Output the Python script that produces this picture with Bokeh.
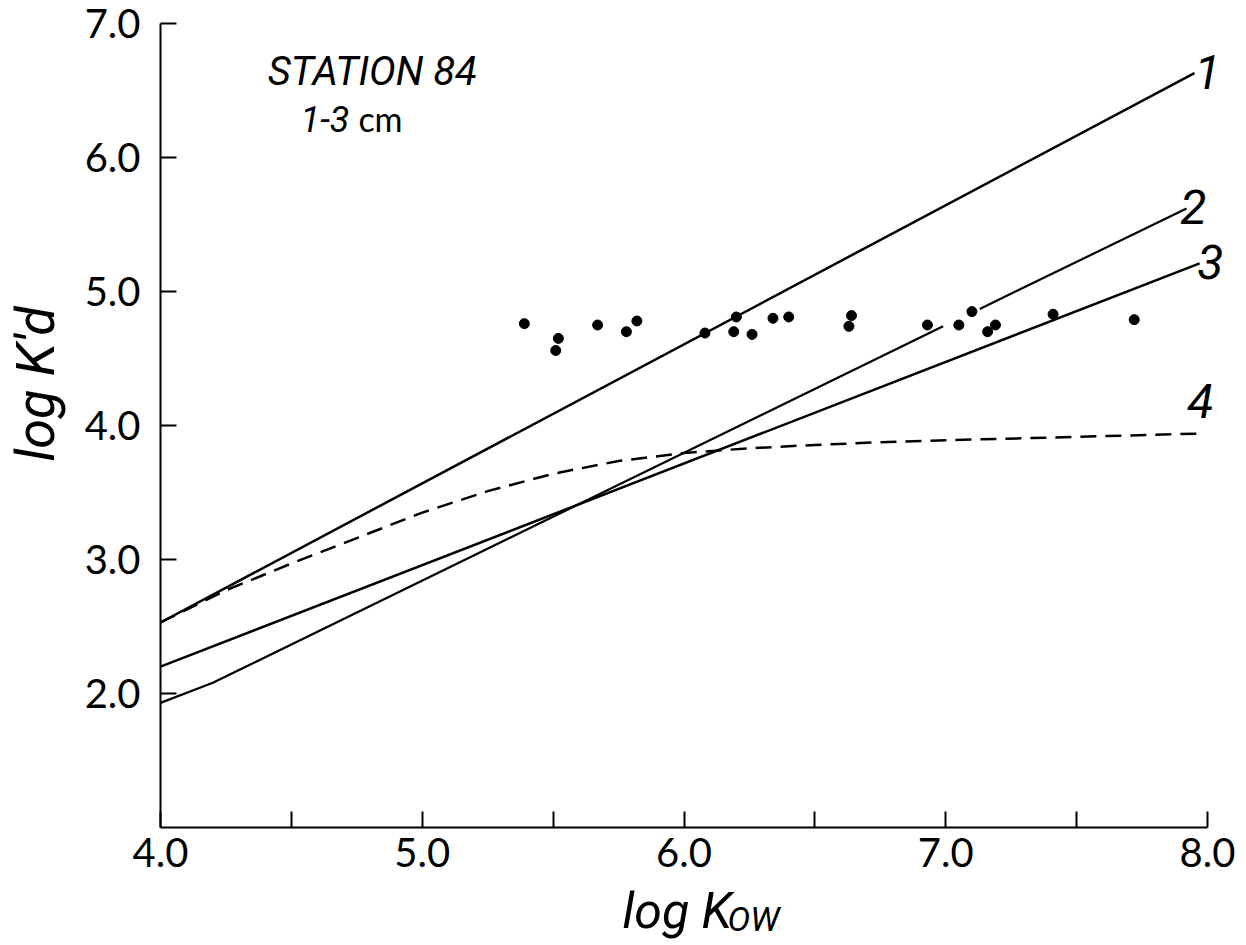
import math
from bokeh.plotting import figure
from bokeh.models import Label, FixedTicker, Range1d
from bokeh.embed import file_html
from bokeh.resources import INLINE

# ---- data ----
x_ticks = [4.0, 4.5, 5.0, 5.5, 6.0, 6.5, 7.0, 7.5, 8.0]
x_tick_labels = ["4.0", "", "5.0", "", "6.0", "", "7.0", "", "8.0"]
y_ticks = [2.0, 3.0, 4.0, 5.0, 6.0, 7.0]
y_tick_labels = ["2.0", "3.0", "4.0", "5.0", "6.0", "7.0"]

pts_x = [5.39, 5.52, 5.51, 5.67, 5.78, 5.82, 6.08, 6.20, 6.19, 6.26, 6.34,
         6.40, 6.64, 6.63, 6.93, 7.05, 7.10, 7.19, 7.16, 7.41, 7.72]
pts_y = [4.76, 4.65, 4.56, 4.75, 4.70, 4.78, 4.69, 4.81, 4.70, 4.68, 4.80,
         4.81, 4.82, 4.74, 4.75, 4.75, 4.85, 4.75, 4.70, 4.83, 4.79]

line1_x = [4.0, 7.95]
line1_y = [2.53, 6.63]
line2_x = [4.0, 4.2, 6.99, float("nan"), 7.13, 7.92]
line2_y = [1.93, 2.08, 4.74, float("nan"), 4.87, 5.62]
line3_x = [4.0, 7.97]
line3_y = [2.20, 5.21]
line4_x = [4.0, 4.25, 4.5, 4.75, 5.0, 5.25, 5.5, 5.75, 6.0, 6.25, 6.5, 6.75, 7.0, 7.5, 7.98]
line4_y = [2.53, 2.77, 2.97, 3.16, 3.35, 3.51, 3.64, 3.735, 3.795, 3.83, 3.855, 3.875, 3.89, 3.915, 3.94]

curve_names = ["1", "2", "3", "4"]
curve_label_x = [8.0, 7.946, 8.011, 7.973]
curve_label_y = [6.64, 5.63, 5.22, 4.18]

HAND = "Roboto"
NUM = "Lato"

W, H = 1240, 940
PX_X = 261.75   # pixels per log unit (x)
PX_Y = 134.0    # pixels per log unit (y)
x_start = 4.0 - 160 / PX_X
x_end = 4.0 + (W - 160) / PX_X
y_end = 7.0 + 23 / PX_Y
y_start = 1.0 - (H - 827) / PX_Y

p = figure(width=W, height=H, x_range=Range1d(x_start, x_end), y_range=Range1d(y_start, y_end),
           output_backend="svg", toolbar_location=None, min_border=0)
p.title.visible = False
p.outline_line_color = None
p.grid.visible = False
p.background_fill_color = "white"
p.border_fill_color = "white"

for ax in (p.xaxis[0], p.yaxis[0]):
    ax.axis_line_width = 2
    ax.axis_line_color = "black"
    ax.major_tick_in = 16
    ax.major_tick_out = 0
    ax.major_tick_line_width = 2
    ax.major_tick_line_color = "black"
    ax.minor_tick_in = 0
    ax.minor_tick_out = 0
    ax.major_label_text_font = NUM
    ax.major_label_text_font_size = "40px"
    ax.major_label_text_color = "black"

p.xaxis.fixed_location = 1.0
p.xaxis.bounds = (4.0, 8.0)
p.xaxis.ticker = FixedTicker(ticks=x_ticks)
p.xaxis.major_label_overrides = {t: l for t, l in zip(x_ticks, x_tick_labels)}
p.xaxis.major_label_standoff = 10
p.yaxis.fixed_location = 4.0
p.yaxis.bounds = (1.0, 7.0)
p.yaxis.ticker = FixedTicker(ticks=y_ticks)
p.yaxis.major_label_overrides = {t: l for t, l in zip(y_ticks, y_tick_labels)}
p.yaxis.major_label_standoff = 20

p.line(line1_x, line1_y, line_color="black", line_width=2.5)
p.line(line2_x, line2_y, line_color="black", line_width=2.2)
p.line(line3_x, line3_y, line_color="black", line_width=2.5)
p.line(line4_x, line4_y, line_color="black", line_width=2.5, line_dash="16 9")
p.scatter(pts_x, pts_y, size=10, color="black")

for name, lx, ly in zip(curve_names, curve_label_x, curve_label_y):
    p.add_layout(Label(x=lx, y=ly, text=name, text_font=HAND, text_font_style="italic",
                       text_font_size="48px", text_align="center", text_baseline="middle",
                       text_color="black"))

p.add_layout(Label(x=4.41, y=6.64, text="STATION 84", text_font=HAND,
                   text_font_style="italic", text_font_size="40px", text_align="left",
                   text_baseline="alphabetic", text_color="black"))
p.add_layout(Label(x=4.722, y=6.29, text="1-3", text_font=HAND,
                   text_font_style="italic", text_font_size="36px", text_align="right",
                   text_baseline="alphabetic", text_color="black"))
p.add_layout(Label(x=4.756, y=6.29, text="cm", text_font=NUM,
                   text_font_size="34px", text_align="left",
                   text_baseline="alphabetic", text_color="black"))

# axis titles
p.add_layout(Label(x=3.522, y=4.31, text="log K'd", text_font=HAND, text_font_style="italic",
                   text_font_size="54px", text_align="center", text_baseline="middle",
                   angle=math.pi / 2, text_color="black"))
p.add_layout(Label(x=5.765, y=0.375, text="log K", text_font=HAND, text_font_style="italic",
                   text_font_size="50px", text_align="left", text_baseline="alphabetic",
                   text_color="black"))
p.add_layout(Label(x=6.166, y=0.315, text="OW", text_font=HAND, text_font_style="italic",
                   text_font_size="34px", text_align="left", text_baseline="alphabetic",
                   text_color="black"))

open("out.html", "w").write(file_html(p, INLINE))
